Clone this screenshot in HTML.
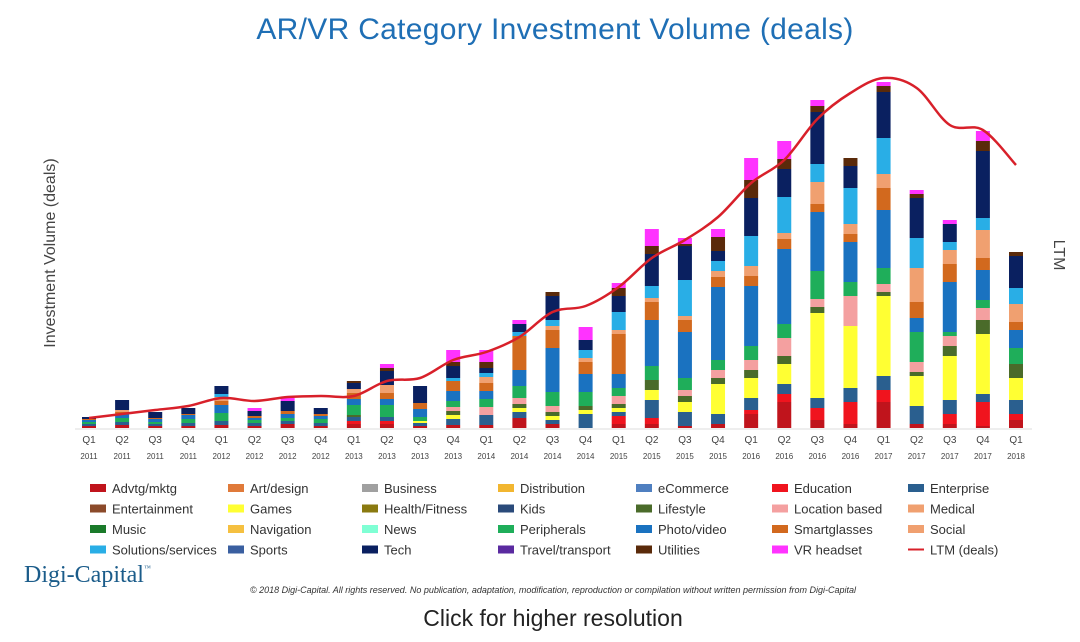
<!DOCTYPE html>
<html><head><meta charset="utf-8"><style>
body{margin:0;background:#fff;font-family:"Liberation Sans",sans-serif}
#c{position:relative;width:1080px;height:642px;overflow:hidden}
</style></head><body>
<div id="c">
<svg id="s" width="1080" height="642" font-family="Liberation Sans, sans-serif">
<text x="555" y="39" text-anchor="middle" font-size="30" letter-spacing="0.3" fill="#1f6fb5">AR/VR Category Investment Volume (deals)</text>
<text transform="translate(55,253) rotate(-90)" text-anchor="middle" font-size="16" fill="#444">Investment Volume (deals)</text>
<text transform="translate(1054,255) rotate(90)" text-anchor="middle" font-size="16" fill="#444">LTM</text>
<line x1="75" y1="429" x2="1032" y2="429" stroke="#ddd"/>
<g id="bars"></g><g id="xl"></g><path id="ltm" fill="none" stroke="#d8202a" stroke-width="2.5"/>
<g id="leg"></g>
<text x="24" y="582" font-size="24" fill="#1b5c8a" font-family="Liberation Serif, serif">Digi-Capital<tspan font-size="7" dy="-12">™</tspan></text>
<text x="553" y="593" text-anchor="middle" font-size="9" font-style="italic" fill="#333">© 2018 Digi-Capital. All rights reserved. No publication, adaptation, modification, reproduction or compilation without written permission from Digi-Capital</text>
<text x="553" y="626" text-anchor="middle" font-size="23" fill="#222">Click for higher resolution</text>
</svg></div>
<script>
const quarters=["Q1","Q2","Q3","Q4","Q1","Q2","Q3","Q4","Q1","Q2","Q3","Q4","Q1","Q2","Q3","Q4","Q1","Q2","Q3","Q4","Q1","Q2","Q3","Q4","Q1","Q2","Q3","Q4","Q1"];
const years=["2011","2011","2011","2011","2012","2012","2012","2012","2013","2013","2013","2013","2014","2014","2014","2014","2015","2015","2015","2015","2016","2016","2016","2016","2017","2017","2017","2017","2018"];
const advtg=[2,3,2,2,3,2,4,2,4,4,2,3,3,10,4,0,4,4,2,4,14,26,8,4,26,4,4,2,8];
const education=[0,0,0,0,0,0,0,0,3,3,0,0,0,0,0,0,8,6,0,0,4,8,12,22,12,0,10,24,6];
const enterprise=[2,3,2,3,4,3,3,3,4,4,3,6,10,6,4,14,4,18,14,10,12,10,10,14,14,18,14,8,14];
const games=[0,0,0,0,0,0,0,0,0,0,2,4,0,4,4,4,4,10,10,30,20,20,85,62,80,30,44,60,22];
const lifestyle=[0,0,0,0,0,0,0,0,2,0,0,4,0,4,4,4,4,10,6,6,8,8,6,0,4,4,10,14,14];
const locationBased=[0,0,0,0,0,0,0,0,0,0,0,4,8,6,6,0,8,0,6,8,10,18,8,30,8,10,10,12,0];
const peripherals=[2,4,2,4,8,3,3,4,10,12,4,6,8,12,14,14,8,14,12,10,14,14,28,14,16,30,4,8,16];
const photo=[2,4,3,4,8,2,4,3,6,6,8,10,8,16,44,18,14,46,46,73,60,75,59,40,58,14,50,30,18];
const smartglasses=[1,2,1,1,4,2,3,2,6,6,6,10,8,34,18,12,40,18,12,10,10,10,8,8,22,16,18,12,8];
const social=[0,2,0,0,4,0,0,0,4,8,0,0,6,0,4,4,4,4,4,6,10,6,22,10,14,34,14,28,18];
const solutions=[0,0,0,0,3,0,0,0,0,0,0,3,4,4,6,8,18,12,36,10,30,36,18,36,36,30,8,12,16];
const tech=[2,10,6,6,8,5,10,6,6,14,17,12,5,8,24,10,16,32,34,10,38,28,52,22,46,40,18,67,32];
const utilities=[0,0,0,0,0,0,0,0,2,3,0,4,6,0,4,0,8,8,2,14,18,10,6,8,6,4,0,10,4];
const vrHeadset=[0,0,0,0,0,3,3,0,0,4,0,12,12,4,0,13,5,17,6,8,22,18,6,0,4,4,4,10,0];
const ltm=[10,14,18,22,30,27,31,32,32,47,50,68,76,91,116,122,141,170,188,211,245,268,309,335,350,340,303,298,263];
const legendLabels=["Advtg/mktg","Art/design","Business","Distribution","eCommerce","Education","Enterprise","Entertainment","Games","Health/Fitness","Kids","Lifestyle","Location based","Medical","Music","Navigation","News","Peripherals","Photo/video","Smartglasses","Social","Solutions/services","Sports","Tech","Travel/transport","Utilities","VR headset","LTM (deals)"];
const legendColors=["#c0141c","#e07a3a","#a0a0a0","#f2b630","#4f7fc0","#f0141e","#2a5f8f","#8b4a2a","#ffff33","#8a7a10","#2a4a7a","#4a6b2a","#f4a0a0","#f0a070","#1a7a2a","#f5c040","#7fffd4","#1fae5a","#1a72c0","#d2691e","#f0a070","#29aee6","#3a5fa0","#0a2060","#5a2aa0","#5a2a0a","#ff33ff","#d8202a"];
const series=[[advtg,"#c0141c","advtg"],[education,"#f0141e","education"],[enterprise,"#2a5f8f","enterprise"],[games,"#ffff33","games"],[lifestyle,"#4a6b2a","lifestyle"],[locationBased,"#f4a0a0","location"],[peripherals,"#1fae5a","peripherals"],[photo,"#1a72c0","photo"],[smartglasses,"#d2691e","smartglasses"],[social,"#f0a070","social"],[solutions,"#29aee6","solutions"],[tech,"#0a2060","tech"],[utilities,"#5a2a0a","utilities"],[vrHeadset,"#ff33ff","vr"]];
const NS="http://www.w3.org/2000/svg";
const x0=89,step=(1016-89)/28,base=428,k=1;
const X=i=>x0+i*step, Y=v=>base-v*k;
const bars=document.getElementById('bars');
quarters.forEach((q,i)=>{let acc=0;
 series.forEach(([arr,col,nm])=>{const v=arr[i];if(!v)return;
  const r=document.createElementNS(NS,'rect');
  r.setAttribute('x',X(i)-7);r.setAttribute('width',14);
  r.setAttribute('y',Y(acc+v));r.setAttribute('height',v*k);r.setAttribute('fill',col);
  
  
  bars.appendChild(r);acc+=v;});
});
const xl=document.getElementById('xl');
quarters.forEach((q,i)=>{
 const t=document.createElementNS(NS,'text');t.setAttribute('x',X(i));t.setAttribute('y',443);t.setAttribute('text-anchor','middle');t.setAttribute('font-size','10');t.setAttribute('fill','#444');t.textContent=q;
 
 
 xl.appendChild(t);
 const u=document.createElementNS(NS,'text');u.setAttribute('x',X(i));u.setAttribute('y',459);u.setAttribute('text-anchor','middle');u.setAttribute('font-size','8');u.setAttribute('fill','#444');u.textContent=years[i];
 
 
 xl.appendChild(u);
});
const pts=ltm.map((v,i)=>[X(i),Y(v)]);
let d='M'+pts[0][0]+','+pts[0][1];
for(let i=0;i<pts.length-1;i++){const p0=pts[Math.max(0,i-1)],p1=pts[i],p2=pts[i+1],p3=pts[Math.min(pts.length-1,i+2)];
 d+=' C'+(p1[0]+(p2[0]-p0[0])/6)+','+(p1[1]+(p2[1]-p0[1])/6)+' '+(p2[0]-(p3[0]-p1[0])/6)+','+(p2[1]-(p3[1]-p1[1])/6)+' '+p2[0]+','+p2[1];}
document.getElementById('ltm').setAttribute('d',d);
const leg=document.getElementById('leg');
const cols=[90,228,362,498,636,772,908];
legendLabels.forEach((lab,i)=>{const c=i%7,r=Math.floor(i/7);const x=cols[c],y=488+r*20.5;
 let m;
 if(i===27){m=document.createElementNS(NS,'line');m.setAttribute('x1',x);m.setAttribute('x2',x+16);m.setAttribute('y1',y);m.setAttribute('y2',y);m.setAttribute('stroke',legendColors[i]);m.setAttribute('stroke-width','2');}
 else{m=document.createElementNS(NS,'rect');m.setAttribute('x',x);m.setAttribute('y',y-4);m.setAttribute('width',16);m.setAttribute('height',8);m.setAttribute('fill',legendColors[i]);}
 
 
 leg.appendChild(m);
 const t=document.createElementNS(NS,'text');t.setAttribute('x',x+22);t.setAttribute('y',y+5);t.setAttribute('font-size','13');t.setAttribute('fill','#333');t.textContent=lab;
 
 
 leg.appendChild(t);
});
</script>
</body></html>
